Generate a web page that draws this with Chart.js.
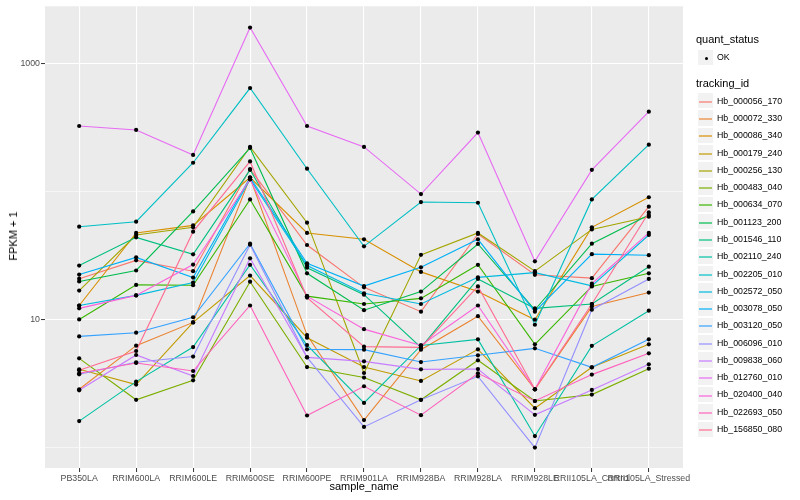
<!DOCTYPE html>
<html><head><meta charset="utf-8">
<script src="https://cdn.jsdelivr.net/npm/chart.js@4.4.1/dist/chart.umd.min.js"></script>
<style>
html,body{margin:0;padding:0;background:#fff;}
#wrap{position:relative;width:800px;height:500px;font-family:"Liberation Sans",Arial,sans-serif;overflow:hidden;}
#c{position:absolute;left:0;top:0;}
.t{position:absolute;white-space:nowrap;color:#000;}
.ttl{font-size:11px;}
.lab{font-size:8.8px;}
.key{position:absolute;left:697px;width:17.3px;height:17.3px;background:#F2F2F2;border:0.5px solid #fff;box-sizing:border-box;}
.kl{position:absolute;left:1px;right:1px;top:7.6px;height:2px;opacity:0.6;}
.kd{position:absolute;left:7px;top:7px;width:3.4px;height:3.4px;border-radius:50%;background:#000;}
</style></head>
<body><div id="wrap"><canvas id="c" width="800" height="500"></canvas>
<div class="t ttl" style="left:364px;top:480px;transform:translateX(-50%);">sample_name</div>
<div class="t ttl" style="left:13px;top:236px;transform:translate(-50%,-50%) rotate(-90deg);">FPKM + 1</div>
<div id="legend"></div>
</div>
<script>
const categories = ["PB350LA","RRIM600LA","RRIM600LE","RRIM600SE","RRIM600PE","RRIM901LA","RRIM928BA","RRIM928LA","RRIM928LE","RRII105LA_Control","RRII105LA_Stressed"];

const hb_000056_170 = [20.8, 28.9, 23.8, 149, 38.1, 17.8, 11.5, 46.4, 22.3, 21.0, 75.8];
const hb_000072_330 = [2.85, 6.24, 9.48, 128, 7.55, 1.64, 5.81, 10.6, 2.85, 12.6, 16.2];
const hb_000086_340 = [12.85, 47.3, 54.2, 128, 47.3, 42.2, 23.5, 16.5, 9.95, 52.3, 89.8];
const hb_000179_240 = [4.08, 3.10, 9.48, 22.0, 7.20, 4.25, 3.31, 5.84, 2.03, 4.23, 6.39];
const hb_000256_130 = [16.8, 45.6, 52.3, 222, 56.9, 3.82, 31.9, 47.3, 23.8, 50.4, 63.3];
const hb_000483_040 = [4.97, 2.36, 3.35, 19.7, 4.25, 3.52, 2.36, 4.80, 2.31, 2.59, 4.13];
const hb_000634_070 = [10.0, 18.6, 18.5, 86.4, 15.2, 13.2, 14.6, 26.7, 6.39, 18.1, 22.9];
const hb_001123_200 = [19.8, 24.1, 69.6, 218, 22.9, 11.8, 16.5, 38.8, 11.9, 39.0, 65.3];
const hb_001546_110 = [26.3, 43.7, 32.2, 147, 25.3, 15.6, 6.05, 20.7, 12.2, 13.2, 25.8];
const hb_002110_240 = [1.61, 3.27, 6.09, 26.7, 6.31, 2.23, 6.27, 6.99, 1.23, 6.22, 11.7];
const hb_002205_010 = [52.9, 57.9, 167, 639, 150, 37.2, 82.4, 81.4, 9.09, 86.4, 231];
const hb_002572_050 = [12.85, 15.4, 19.4, 124, 26.3, 16.0, 13.2, 21.3, 23.2, 18.3, 45.6];
const hb_003078_050 = [22.4, 30.5, 21.2, 128, 27.4, 18.2, 25.5, 42.2, 11.5, 32.3, 31.7];
const hb_003120_050 = [7.37, 7.88, 10.4, 39.0, 5.84, 5.81, 4.65, 5.25, 5.95, 4.23, 6.99];
const hb_006096_010 = [3.73, 4.63, 5.13, 38.3, 5.06, 1.45, 2.36, 3.60, 1.00, 11.9, 20.7];
const hb_009838_060 = [2.80, 5.28, 3.62, 30.0, 5.06, 4.71, 4.08, 4.10, 1.80, 2.82, 4.47];
const hb_012760_010 = [323, 301, 192, 1895, 323, 222, 95.1, 287, 28.4, 147, 418];
const hb_020400_040 = [12.2, 15.4, 26.8, 124, 15.2, 8.40, 6.27, 12.85, 2.85, 19.0, 47.3];
const hb_022693_050 = [3.80, 4.57, 3.96, 12.85, 1.78, 3.01, 1.79, 3.80, 2.31, 3.71, 5.44];
const hb_156850_080 = [4.01, 5.67, 48.4, 171, 14.8, 6.13, 6.05, 18.1, 2.85, 13.2, 68.4];

const trackingIds = ["Hb_000056_170","Hb_000072_330","Hb_000086_340","Hb_000179_240","Hb_000256_130","Hb_000483_040","Hb_000634_070","Hb_001123_200","Hb_001546_110","Hb_002110_240","Hb_002205_010","Hb_002572_050","Hb_003078_050","Hb_003120_050","Hb_006096_010","Hb_009838_060","Hb_012760_010","Hb_020400_040","Hb_022693_050","Hb_156850_080"];
const seriesValues = [hb_000056_170,hb_000072_330,hb_000086_340,hb_000179_240,hb_000256_130,hb_000483_040,hb_000634_070,hb_001123_200,hb_001546_110,hb_002110_240,hb_002205_010,hb_002572_050,hb_003078_050,hb_003120_050,hb_006096_010,hb_009838_060,hb_012760_010,hb_020400_040,hb_022693_050,hb_156850_080];
const palette = ["#F8766D","#EA8331","#D89000","#C09B00","#A3A500","#7CAE00","#39B600","#00BB4E","#00BF7D","#00C1A3","#00BFC4","#00BAE0","#00B0F6","#35A2FF","#9590FF","#C77CFF","#E76BF3","#FA62DB","#FF62BC","#FF6C91"];

const yTicks = [1, 10, 100, 1000];
const yTickLabels = {10: "10", 1000: "1000"};

const datasets = [];
for (let i = seriesValues.length - 1; i >= 0; i--) {
  datasets.push({
    type: 'line', label: trackingIds[i],
    data: seriesValues[i].map((v, j) => ({x: j, y: v})),
    borderColor: palette[i], borderWidth: 1.1, pointRadius: 0, fill: false, tension: 0, order: 2
  });
}
for (let i = 0; i < seriesValues.length; i++) {
  datasets.push({
    type: 'scatter', label: trackingIds[i] + ' pts',
    data: seriesValues[i].map((v, j) => ({x: j, y: v})),
    showLine: false, pointRadius: 2.1, pointBackgroundColor: '#000', pointBorderWidth: 0, order: 1
  });
}

const panelBg = {
  id: 'panelBg',
  beforeDraw(chart) {
    const a = chart.chartArea, ctx = chart.ctx;
    ctx.save(); ctx.fillStyle = '#EBEBEB';
    ctx.fillRect(a.left, a.top, a.right - a.left, a.bottom - a.top);
    ctx.restore();
  }
};

new Chart(document.getElementById('c'), {
  type: 'line',
  data: { datasets },
  plugins: [panelBg],
  options: {
    responsive: false, animation: false, devicePixelRatio: 1,
    layout: { padding: { left: 0, top: 5, right: 117, bottom: 0 } },
    plugins: { legend: { display: false }, tooltip: { enabled: false } },
    scales: {
      x: {
        type: 'linear', min: -0.6, max: 10.6,
        afterBuildTicks: s => { s.ticks = categories.map((c, i) => ({ value: i })); },
        afterFit: s => { s.height = 32; },
        ticks: { callback: v => categories[v], autoSkip: false, maxRotation: 0, minRotation: 0,
                 color: '#4D4D4D', font: { family: 'Liberation Sans', size: 8.8 }, padding: 1 },
        grid: { color: '#FFFFFF', lineWidth: 1.1, drawTicks: true, tickLength: 4, tickColor: '#333333', tickWidth: 1 },
        border: { display: false }
      },
      y: {
        type: 'logarithmic', min: 0.693, max: 2777,
        afterBuildTicks: s => { s.ticks = yTicks.map(v => ({ value: v })); },
        afterFit: s => { s.width = 45; },
        ticks: { callback: v => yTickLabels[v] || '', color: '#4D4D4D', font: { family: 'Liberation Sans', size: 8.8 }, padding: 1 },
        grid: {
          color: '#FFFFFF',
          lineWidth: c => (c.tick && yTickLabels[c.tick.value]) ? 1.1 : 0.55,
          drawTicks: true, tickLength: 4,
          tickColor: c => (c.tick && yTickLabels[c.tick.value]) ? '#333333' : 'rgba(0,0,0,0)',
          tickWidth: 1
        },
        border: { display: false }
      }
    }
  }
});

// legend (HTML, real text)
const lg = document.getElementById('legend');
let html = '';
html += '<div class="t ttl" style="left:696px;top:33px;">quant_status</div>';
html += '<div class="key" style="top:48.5px;"><div class="kd"></div></div>';
html += '<div class="t lab" style="left:717px;top:52px;">OK</div>';
html += '<div class="t ttl" style="left:696px;top:77px;">tracking_id</div>';
trackingIds.forEach((id, i) => {
  const top = 92.2 + i * 17.28;
  html += '<div class="key" style="top:' + top.toFixed(2) + 'px;"><div class="kl" style="background:' + palette[i] + '"></div></div>';
  html += '<div class="t lab" style="left:717px;top:' + (top + 3.5).toFixed(2) + 'px;">' + id + '</div>';
});
lg.innerHTML = html;
</script>
</body></html>
